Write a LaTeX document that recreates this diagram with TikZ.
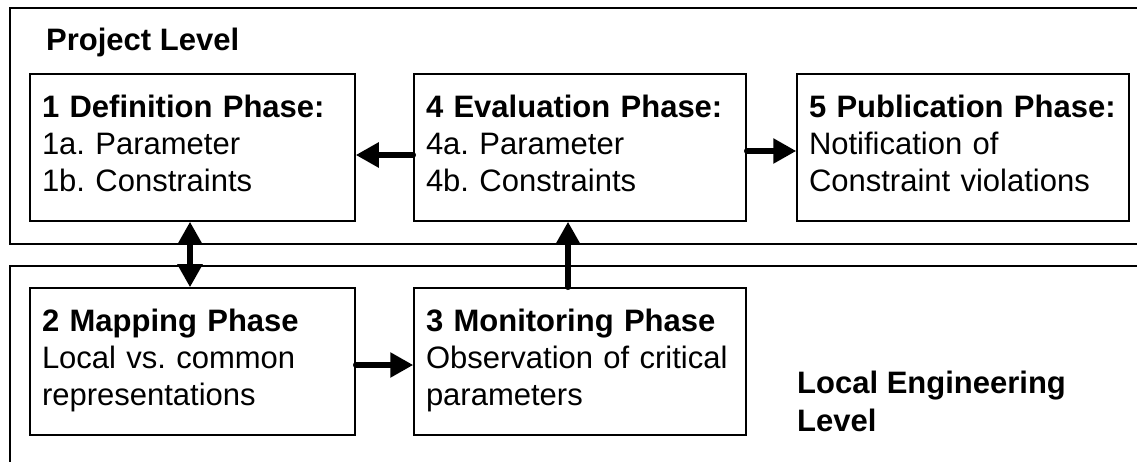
\documentclass[tikz,border=0pt]{standalone}
\usepackage{fontspec}
\setmainfont{Liberation Sans}
\frenchspacing
\usetikzlibrary{arrows.meta}
\tikzset{
  phase/.style={draw, line width=1.5pt, inner ysep=0pt, inner xsep=12pt, minimum height=147pt,
    align=left, font=\fontsize{31}{37}\selectfont},
  lvl/.style={inner sep=0pt, align=left, font=\fontsize{31}{38}\selectfont\bfseries},
  outer/.style={line width=1.5pt},
  arr/.style={line width=5.5pt, line cap=round, -{Triangle[length=23pt,width=24pt]}},
  darr/.style={line width=5.5pt, {Triangle[length=23pt,width=24pt]}-{Triangle[length=23pt,width=24pt]}}
}
\begin{document}
\begin{tikzpicture}[x=1pt,y=-1pt]
\useasboundingbox (0,0) rectangle (1137,462);
\fill[white] (0,0) rectangle (1137,462);
% outer level frames (open to the right / bottom)
\draw[outer] (1137,8) -- (10,8) -- (10,244) -- (1137,244);
\draw[outer] (1137,266) -- (10,266) -- (10,462);
\node[lvl, anchor=base west] (pl) at (46,51) {Project Level};
\node[lvl, anchor=north west] (ll) at (797,366.4) {\strut Local Engineering\\Level\strut};
% phase boxes
\node[phase, minimum width=325pt, text width=301pt] (b1) at (192.5,147.5)
  {\strut\textbf{1 Definition Phase:}\\1a. Parameter\\1b. Constraints\strut};
\node[phase, minimum width=332pt, text width=308pt] (b4) at (580,147.5)
  {\strut\textbf{4 Evaluation Phase:}\\4a. Parameter\\4b. Constraints\strut};
\node[phase, minimum width=332pt, text width=308pt] (b5) at (963,147.5)
  {\strut\textbf{5 Publication Phase:}\\Notification of\\Constraint violations\strut};
\node[phase, minimum width=325pt, text width=301pt] (b2) at (192.5,361.5)
  {\strut\textbf{2 Mapping Phase}\\Local vs. common\\representations\strut};
\node[phase, minimum width=332pt, text width=308pt] (b3) at (580,361.5)
  {\strut\textbf{3 Monitoring Phase}\\Observation of critical\\parameters\strut};
% connectors
\draw[arr] ([yshift=-7.5pt]b4.west) -- ([yshift=-7.5pt]b1.east);
\draw[arr] ([yshift=-3.5pt]b4.east) -- ([yshift=-3.5pt]b5.west);
\draw[darr] ([xshift=-2.5pt]b1.south) -- ([xshift=-2.5pt]b2.north);
\draw[arr] ([yshift=-3.5pt]b2.east) -- ([yshift=-3.5pt]b3.west);
\draw[arr] ([xshift=-12pt]b3.north) -- ([xshift=-12pt]b4.south);
\end{tikzpicture}
\end{document}
